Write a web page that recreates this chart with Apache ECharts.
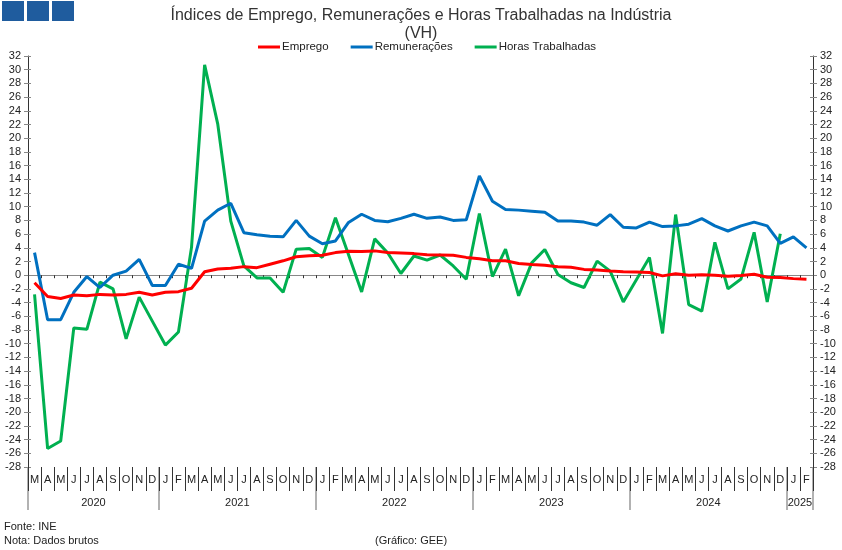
<!DOCTYPE html>
<html>
<head>
<meta charset="utf-8">
<script src="https://cdn.jsdelivr.net/npm/echarts@6/dist/echarts.min.js"></script>
<style>
	html, body { margin: 0; padding: 0; background: #fff; }
	#chart { width: 842px; height: 550px; }
</style>
</head>
<body>
<div id="chart"></div>
<script>
// meses de Mar 2020 a Fev 2025
var months = ['M','A','M','J','J','A','S','O','N','D',
	'J','F','M','A','M','J','J','A','S','O','N','D',
	'J','F','M','A','M','J','J','A','S','O','N','D',
	'J','F','M','A','M','J','J','A','S','O','N','D',
	'J','F','M','A','M','J','J','A','S','O','N','D',
	'J','F'];
var years = ['2020', '2021', '2022', '2023', '2024', '2025'];
var yearStart = [0, 10, 22, 34, 46, 58, 60]; // limites dos anos em meses

var emprego = [-1.1, -3.1, -3.4, -2.9, -3.0, -2.8, -2.9, -2.8, -2.5, -2.9,
	-2.5, -2.4, -1.9, 0.5, 0.9, 1.0, 1.25, 1.1, 1.6, 2.1, 2.7, 2.85,
	2.9, 3.3, 3.5, 3.45, 3.55, 3.3, 3.25, 3.15, 3.0, 2.95, 2.9, 2.6,
	2.4, 2.1, 2.1, 1.7, 1.55, 1.45, 1.25, 1.15, 0.85, 0.75, 0.6, 0.5,
	0.45, 0.4, -0.1, 0.2, 0.0, 0.05, 0.0, -0.15, -0.05, 0.15, -0.3, -0.35,
	-0.5, -0.6];
var remuneracoes = [3.3, -6.5, -6.5, -2.5, -0.2, -1.8, 0.0, 0.6, 2.3, -1.5,
	-1.5, 1.6, 1.0, 7.9, 9.5, 10.5, 6.2, 5.9, 5.7, 5.6, 8.0, 5.7,
	4.6, 5.0, 7.7, 8.9, 8.0, 7.8, 8.3, 8.9, 8.3, 8.5, 8.0, 8.1,
	14.5, 10.8, 9.6, 9.5, 9.35, 9.2, 7.9, 7.9, 7.75, 7.3, 8.85, 7.0,
	6.9, 7.75, 7.1, 7.2, 7.45, 8.25, 7.2, 6.45, 7.2, 7.75, 7.2, 4.65,
	5.6, 4.0];
var horas = [-2.8, -25.3, -24.2, -7.7, -7.9, -1.0, -2.0, -9.3, -3.2, -6.7,
	-10.2, -8.3, 4.1, 30.7, 22.1, 7.9, 1.35, -0.4, -0.4, -2.5, 3.8, 3.9,
	2.6, 8.4, 3.0, -2.45, 5.3, 3.25, 0.25, 2.8, 2.2, 2.95, 1.35, -0.6,
	9.0, -0.2, 3.8, -3.0, 1.8, 3.75, 0.1, -1.1, -1.8, 2.05, 0.6, -3.9,
	-0.65, 2.6, -8.5, 8.85, -4.3, -5.25, 4.8, -2.0, -0.55, 6.25, -3.9, 6.05];

var fontFamily = '"Liberation Sans", Arial, sans-serif';
var labelColor = '#222';

var chart = echarts.init(document.getElementById('chart'));

var monthLabelValues = months.map(function(m, i) { return i + 0.5; });
var monthTickValues = months.map(function(m, i) { return i; }).concat([months.length]);
var yearLabelValues = years.map(function(y, i) { return (yearStart[i] + yearStart[i + 1]) / 2; });

function yAxisDef(pos, inner) {
	return {
		type: 'value',
		position: pos,
		min: -28,
		max: 32,
		interval: 2,
		axisLine: { show: !inner, onZero: false, lineStyle: { color: '#333' } },
		axisTick: { show: true, inside: inner, length: inner ? 3 : 4, lineStyle: { color: '#888' } },
		axisLabel: { show: !inner, fontSize: 11, color: labelColor, margin: 7 },
		splitLine: { show: false }
	};
}

var option = {
	animation: false,
	textStyle: { fontFamily: fontFamily },
	title: {
		text: 'Índices de Emprego, Remunerações e Horas Trabalhadas na Indústria\n(VH)',
		left: 'center',
		top: 2,
		textStyle: {
			fontSize: 16,
			fontWeight: 'normal',
			color: '#333',
			lineHeight: 18,
			fontFamily: fontFamily
		}
	},
	legend: {
		data: ['Emprego', 'Remunerações', 'Horas Trabalhadas'],
		top: 41,
		left: 258,
		padding: 0,
		icon: 'rect',
		itemWidth: 22,
		itemHeight: 3,
		itemGap: 22,
		textStyle: { fontSize: 11.5, color: labelColor, padding: [0, 0, 0, -3] }
	},
	graphic: [
		{ type: 'rect', left: 2, top: 1, shape: { width: 22, height: 20 }, style: { fill: '#1f5c9e' } },
		{ type: 'rect', left: 27, top: 1, shape: { width: 22, height: 20 }, style: { fill: '#1f5c9e' } },
		{ type: 'rect', left: 52, top: 1, shape: { width: 22, height: 20 }, style: { fill: '#1f5c9e' } },
		{ type: 'text', left: 4, top: 521, style: { text: 'Fonte: INE', fontSize: 11, fill: labelColor, fontFamily: fontFamily } },
		{ type: 'text', left: 4, top: 535, style: { text: 'Nota: Dados brutos', fontSize: 11, fill: labelColor, fontFamily: fontFamily } },
		{ type: 'text', left: 375, top: 535, style: { text: '(Gráfico: GEE)', fontSize: 11, fill: labelColor, fontFamily: fontFamily } }
	],
	grid: {
		left: 28,
		right: 29,
		top: 56,
		bottom: 83
	},
	xAxis: [{
			type: 'category',
			data: months,
			boundaryGap: true,
			axisLine: { onZero: true, lineStyle: { color: '#888', width: 1 } },
			axisTick: { show: true, interval: 0, length: 3, lineStyle: { color: '#333' } },
			axisLabel: { show: false },
			splitLine: { show: false }
		},
		{
			// anos
			type: 'value',
			position: 'bottom',
			min: 0,
			max: months.length,
			axisLine: { show: false, onZero: false },
			splitLine: { show: false },
			axisTick: { show: true, customValues: yearStart, length: 43, lineStyle: { color: '#999', width: 1.5 } },
			axisLabel: {
				customValues: yearLabelValues,
				margin: 30,
				fontSize: 11,
				color: labelColor,
				formatter: function(v) { return years[yearLabelValues.indexOf(v)]; }
			}
		},
		{
			// letras dos meses
			type: 'value',
			position: 'bottom',
			min: 0,
			max: months.length,
			axisLine: { show: false, onZero: false },
			splitLine: { show: false },
			axisTick: { show: true, customValues: monthTickValues, length: 24, lineStyle: { color: '#333' } },
			axisLabel: {
				customValues: monthLabelValues,
				margin: 7,
				fontSize: 11,
				color: labelColor,
				formatter: function(v) { return months[Math.floor(v)]; }
			}
		}
	],
	yAxis: [yAxisDef('left', false), yAxisDef('right', false), yAxisDef('left', true), yAxisDef('right', true)],
	series: [{
			name: 'Emprego',
			type: 'line',
			data: emprego,
			symbol: 'none',
			lineStyle: { width: 3, color: '#ff0000' },
			itemStyle: { color: '#ff0000' },
			z: 4
		},
		{
			name: 'Remunerações',
			type: 'line',
			data: remuneracoes,
			symbol: 'none',
			lineStyle: { width: 3, color: '#0070c0' },
			itemStyle: { color: '#0070c0' },
			z: 3
		},
		{
			name: 'Horas Trabalhadas',
			type: 'line',
			data: horas,
			symbol: 'none',
			lineStyle: { width: 3, color: '#00b050' },
			itemStyle: { color: '#00b050' },
			z: 2
		}
	]
};
chart.setOption(option);
</script>
</body>
</html>
